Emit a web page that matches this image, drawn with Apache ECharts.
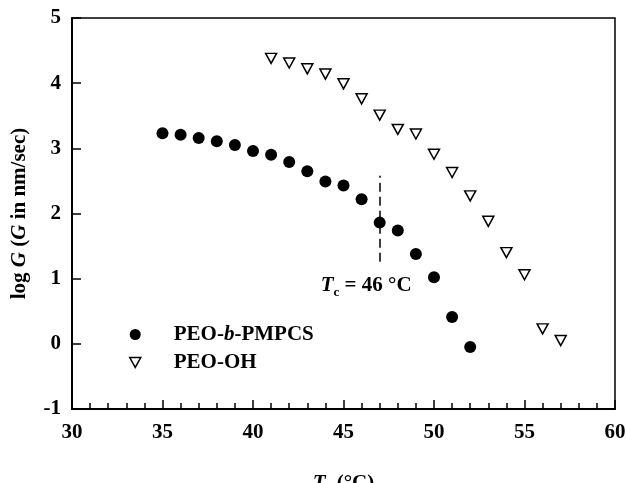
<!DOCTYPE html>
<html>
<head>
<meta charset="utf-8">
<script src="https://cdn.jsdelivr.net/npm/echarts@6/dist/echarts.min.js"></script>
<style>
html,body{margin:0;padding:0;background:#fff;}
#chart{width:626px;height:483px;}
</style>
</head>
<body>
<div id="chart"></div>
<script>
// Data
var blockT = [35, 36, 37, 38, 39, 40, 41, 42, 43, 44, 45, 46, 47, 48, 49, 50, 51, 52];
var blockLogG = [3.23, 3.21, 3.16, 3.11, 3.05, 2.96, 2.90, 2.79, 2.65, 2.49, 2.43, 2.22, 1.86, 1.74, 1.38, 1.02, 0.41, -0.05];
var ohT = [41, 42, 43, 44, 45, 46, 47, 48, 49, 50, 51, 52, 53, 54, 55, 56, 57];
var ohLogG = [4.38, 4.31, 4.22, 4.14, 3.99, 3.76, 3.51, 3.29, 3.22, 2.91, 2.63, 2.27, 1.88, 1.40, 1.06, 0.23, 0.05];
var xTicks = [30, 35, 40, 45, 50, 55, 60];
var yTicks = [-1, 0, 1, 2, 3, 4, 5];
var dashX = 47;
var dashRange = [1.26, 2.58];
var tcLabelPos = [46.25, 0.89];
var seriesNames = ['PEO-b-PMPCS', 'PEO-OH'];

function pairs(xs, ys) { return xs.map(function (x, i) { return [x, ys[i]]; }); }

var FONT = 'Liberation Serif';
var base = { fontFamily: FONT, fontWeight: 'bold', color: '#000' };
function st(o) { var r = {}; for (var k in base) r[k] = base[k]; for (var k2 in o) r[k2] = o[k2]; return r; }

var triPath = 'path://M0,0L10,0L5,9Z';

var chart = echarts.init(document.getElementById('chart'), null, { renderer: 'canvas' });
chart.setOption({
  animation: false,
  backgroundColor: '#fff',
  grid: { left: 72, right: 11, top: 18, bottom: 74, outerBoundsMode: 'none', containLabel: false,
          show: true, borderColor: '#000', borderWidth: 1.5, backgroundColor: 'transparent' },
  xAxis: {
    type: 'value', min: xTicks[0], max: xTicks[xTicks.length - 1], interval: 5,
    axisLine: { show: true, onZero: false, lineStyle: { color: '#000', width: 2 } },
    axisTick: { show: true, inside: true, length: 9, lineStyle: { color: '#000', width: 1.5 } },
    minorTick: { show: true, splitNumber: 5, length: 6, lineStyle: { color: '#000', width: 1.5 } },
    splitLine: { show: false },
    axisLabel: st({ fontSize: 21, margin: 13 }),
    name: '{i|T}{s|c}{n| (°C)}',
    nameLocation: 'middle', nameGap: 62,
    nameTextStyle: st({ fontSize: 21, rich: {
      i: st({ fontSize: 21, fontStyle: 'italic' }),
      s: st({ fontSize: 13, padding: [13, 0, 0, 0] }),
      n: st({ fontSize: 21 })
    } })
  },
  yAxis: {
    type: 'value', min: yTicks[0], max: yTicks[yTicks.length - 1], interval: 1,
    axisLine: { show: true, onZero: false, lineStyle: { color: '#000', width: 2 } },
    axisTick: { show: true, inside: true, length: 9, lineStyle: { color: '#000', width: 1.5 } },
    splitLine: { show: false },
    axisLabel: st({ fontSize: 21, margin: 11 }),
    name: '{n|log }{i|G}{n| (}{i|G}{n| in nm/sec)}',
    nameLocation: 'middle', nameGap: 42, nameRotate: 90,
    nameTextStyle: st({ fontSize: 21, rich: {
      i: st({ fontSize: 21, fontStyle: 'italic' }),
      n: st({ fontSize: 21 })
    } })
  },
  legend: {
    orient: 'vertical', left: 124, top: 319,
    itemWidth: 11, itemHeight: 12, itemGap: 7,
    data: [
      { name: seriesNames[0], icon: 'circle' },
      { name: seriesNames[1], icon: triPath, itemStyle: { borderWidth: 1.5 } }
    ],
    formatter: function (name) {
      if (name === 'PEO-b-PMPCS') return '{n|PEO-}{i|b}{n|-PMPCS}';
      return '{n|' + name + '}';
    },
    textStyle: st({ fontSize: 21, padding: [0, 0, 0, 28], rich: {
      n: st({ fontSize: 21 }),
      i: st({ fontSize: 21, fontStyle: 'italic' })
    } })
  },
  series: [
    {
      name: seriesNames[0], type: 'scatter', data: pairs(blockT, blockLogG),
      symbol: 'circle', symbolSize: 12,
      itemStyle: { color: '#000', opacity: 1 },
      markLine: {
        silent: true, symbol: ['none', 'none'],
        label: { show: false },
        lineStyle: { color: '#000', width: 1.5, type: [9, 5], opacity: 1 },
        data: [[{ coord: [dashX, dashRange[0]] }, { coord: [dashX, dashRange[1]] }]]
      },
      markPoint: {
        silent: true, symbol: 'circle', symbolSize: 0,
        data: [{ coord: tcLabelPos }],
        label: {
          show: true, position: 'inside',
          formatter: '{i|T}{s|c}{n| = 46 °C}',
          rich: {
            i: st({ fontSize: 21, fontStyle: 'italic' }),
            s: st({ fontSize: 13, padding: [13, 0, 0, 0] }),
            n: st({ fontSize: 21 })
          }
        }
      }
    },
    {
      name: seriesNames[1], type: 'scatter', data: pairs(ohT, ohLogG),
      symbol: triPath, symbolSize: [11, 10],
      itemStyle: { color: '#fff', borderColor: '#000', borderWidth: 1.5, opacity: 1 }
    }
  ]
});
</script>
</body>
</html>
